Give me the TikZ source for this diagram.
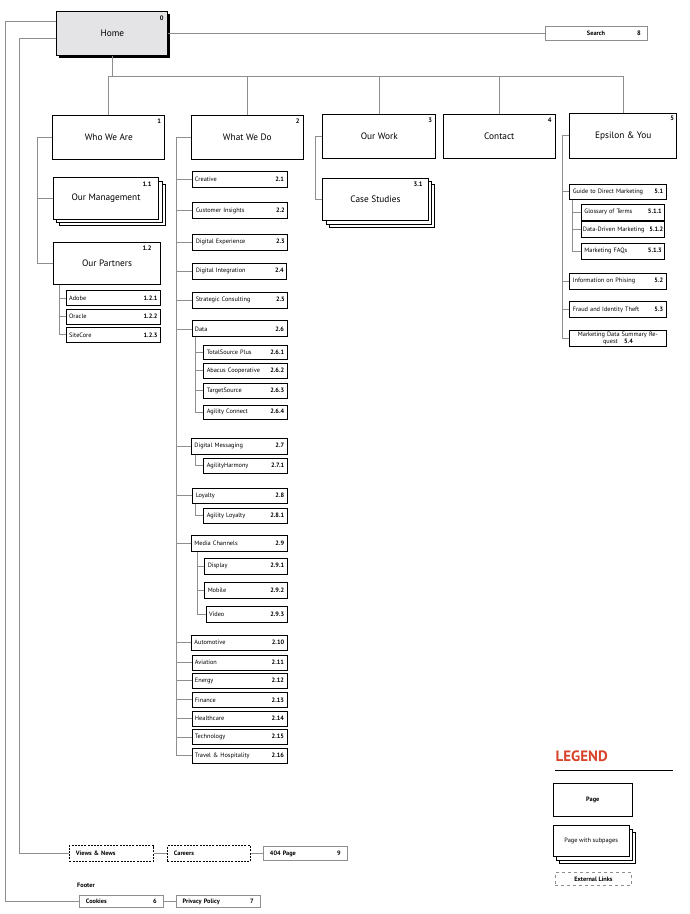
\documentclass[tikz,border=0pt]{standalone}
\usepackage{fontspec}
\setmainfont{PT Sans}
\usetikzlibrary{positioning,calc,shadows}
\definecolor{linegray}{HTML}{8E8E8E}
\definecolor{homegray}{HTML}{E4E4E6}
\definecolor{legendred}{HTML}{D8442A}
\newcommand{\leaffont}{\fontsize{6.3}{7}\selectfont}
\newcommand{\pagefont}{\fontsize{9.3}{10}\selectfont}
\newcommand{\numfont}{\fontsize{6.5}{7}\selectfont\bfseries}
\tikzstyle{line} = [draw=linegray, line width=0.8pt]
\tikzstyle{page} = [draw, line width=1pt, fill=white, minimum width=112pt, minimum height=44pt, font=\pagefont]
\tikzstyle{num} = [anchor=north east, inner sep=4pt, font=\numfont]
\tikzstyle{stack} = [page, copy shadow={shadow xshift=6.6pt, shadow yshift=-6.6pt, draw=black, fill=white, line width=1pt}, copy shadow={shadow xshift=3.3pt, shadow yshift=-3.3pt, draw=black, fill=white, line width=1pt}]
\tikzstyle{leaf} = [draw, line width=0.9pt, fill=white, anchor=west, minimum height=15pt, inner xsep=3pt, inner ysep=0pt, font=\leaffont]
\tikzstyle{ext} = [leaf, draw=linegray, inner xsep=6.5pt, font=\leaffont\bfseries, minimum height=13.5pt]
\tikzstyle{outlink} = [leaf, dash pattern=on 2pt off 1.2pt, inner xsep=6.5pt, font=\leaffont\bfseries, minimum height=16pt]

\begin{document}
\begin{tikzpicture}[x=1pt, y=-1pt]
    \path [use as bounding box, fill=white] (0,0) rectangle (690,914);
    % Home
    \node [page, fill=homegray, minimum width=111pt, drop shadow={shadow xshift=2pt, shadow yshift=-2pt, fill=black, opacity=1}, label={[num, inner sep=4.5pt]north east:0}] (home) at (112.3,33.5) {Home};
    \node [ext, anchor=center, minimum width=102pt, label={[anchor=east, inner sep=6.5pt, font=\numfont]east:8}] (search) at (596,33.5) {Search};

    % Main sections
    \node [page, label={[num]north east:1}] (whoweare) at (108.8,137) {Who We Are};
    \node [page, label={[num]north east:2}] (whatwedo) at (247.3,137) {What We Do};
    \node [page, minimum width=113pt, label={[num]north east:3}] (ourwork) at (379.3,136.7) {Our Work};
    \node [page, label={[num]north east:4}] (contact) at (499.3,136.7) {Contact};
    \node [page, minimum width=107pt, minimum height=45pt, label={[num, inner sep=3pt]north east:5}] (epsilon) at (623.3,135.8) {Epsilon \& You};

    % Who We Are
    \node [stack, minimum width=105.4pt, minimum height=41.6pt, label={[num, inner xsep=7.5pt]north east:1.1}] (management) at (106,198.5) {Our Management};
    \node [page, minimum width=107.4pt, minimum height=42pt, label={[num, inner xsep=9.5pt]north east:1.2}] (partners) at (107,263.3) {Our Partners};
    \node [leaf, text width=88.3pt] (adobe) at (65.7,298.2) {Adobe\hfill\textbf{1.2.1}};
    \node [leaf, text width=88.3pt] (oracle) at (65.7,316.5) {Oracle\hfill\textbf{1.2.2}};
    \node [leaf, text width=88.3pt] (sitecore) at (65.7,334.8) {SiteCore\hfill\textbf{1.2.3}};

    % What We Do
    \node [leaf, text width=89pt, minimum height=16pt] (creative) at (191.5,179.2) {Creative\hfill\textbf{2.1}};
    \node [leaf, text width=89pt, minimum height=16pt] (insights) at (192.3,210.8) {Customer Insights\hfill\textbf{2.2}};
    \node [leaf, text width=89pt, minimum height=16pt] (experience) at (192.3,242.2) {Digital Experience\hfill\textbf{2.3}};
    \node [leaf, text width=88pt, minimum height=16pt] (integration) at (192.3,271.2) {Digital Integration\hfill\textbf{2.4}};
    \node [leaf, text width=89pt, minimum height=16pt] (consulting) at (192.3,300) {Strategic Consulting\hfill\textbf{2.5}};
    \node [leaf, text width=89pt, minimum height=16pt] (data) at (191.5,328.9) {Data\hfill\textbf{2.6}};
    \node [leaf, text width=77.4pt, minimum height=14.5pt] (totalsource) at (203.3,352.2) {TotalSource Plus\hfill\textbf{2.6.1}};
    \node [leaf, text width=77.4pt, minimum height=14.5pt] (abacus) at (203.3,370.8) {Abacus Cooperative\hfill\textbf{2.6.2}};
    \node [leaf, text width=77.4pt, minimum height=14.5pt] (targetsource) at (203.3,390.8) {TargetSource\hfill\textbf{2.6.3}};
    \node [leaf, text width=77.4pt, minimum height=14.5pt] (agilityconnect) at (203.3,412.2) {Agility Connect\hfill\textbf{2.6.4}};
    \node [leaf, text width=89.7pt, minimum height=16pt] (messaging) at (191,446.3) {Digital Messaging\hfill\textbf{2.7}};
    \node [leaf, text width=77.4pt] (harmony) at (203.3,465.8) {AgilityHarmony\hfill\textbf{2.7.1}};
    \node [leaf, text width=88.4pt] (loyalty) at (192.3,495.8) {Loyalty\hfill\textbf{2.8}};
    \node [leaf, text width=77.4pt] (agilityloyalty) at (203.3,515.8) {Agility Loyalty\hfill\textbf{2.8.1}};
    \node [leaf, text width=89.7pt, minimum height=16.5pt] (media) at (191,543.3) {Media Channels\hfill\textbf{2.9}};
    \node [leaf, text width=76.4pt, minimum height=16pt] (display) at (204.3,566.3) {Display\hfill\textbf{2.9.1}};
    \node [leaf, text width=76.4pt, minimum height=16pt] (mobile) at (204.3,590.5) {Mobile\hfill\textbf{2.9.2}};
    \node [leaf, text width=75pt, minimum height=16pt] (video) at (205.7,614.5) {Video\hfill\textbf{2.9.3}};
    \node [leaf, text width=89.7pt] (automotive) at (191,642.5) {Automotive\hfill\textbf{2.10}};
    \node [leaf, text width=89pt] (aviation) at (191.5,662.5) {Aviation\hfill\textbf{2.11}};
    \node [leaf, text width=89pt] (energy) at (191.5,680.8) {Energy\hfill\textbf{2.12}};
    \node [leaf, text width=89pt] (finance) at (191.5,699.8) {Finance\hfill\textbf{2.13}};
    \node [leaf, text width=89pt] (healthcare) at (191.5,718.5) {Healthcare\hfill\textbf{2.14}};
    \node [leaf, text width=89pt] (technology) at (191.5,737.2) {Technology\hfill\textbf{2.15}};
    \node [leaf, text width=89pt] (travel) at (191.5,755.8) {Travel \& Hospitality\hfill\textbf{2.16}};

    % Our Work
    \node [stack, minimum width=105.6pt, minimum height=42.4pt, label={[num, inner xsep=6pt]north east:3.1}] (casestudies) at (375.5,199.5) {Case Studies};

    % Epsilon & You
    \node [leaf, text width=90.4pt, minimum height=15.3pt] (guide) at (569.3,191.7) {Guide to Direct Marketing\hfill\textbf{5.1}};
    \node [leaf, text width=77.3pt, minimum height=15.7pt] (glossary) at (581,212.2) {Glossary of Terms\hfill\textbf{5.1.1}};
    \node [leaf, text width=80.3pt, inner xsep=1.5pt, minimum height=15.7pt] (datadriven) at (581,229.5) {Data-Driven Marketing\hfill\textbf{5.1.2}};
    \node [leaf, text width=77.3pt, minimum height=15.7pt] (faqs) at (581,251.3) {Marketing FAQs\hfill\textbf{5.1.3}};
    \node [leaf, text width=90.4pt, minimum height=16pt] (phising) at (569.3,281.3) {Information on Phising\hfill\textbf{5.2}};
    \node [leaf, text width=90.4pt, minimum height=15.6pt] (fraud) at (569.3,309.5) {Fraud and Identity Theft\hfill\textbf{5.3}};
    \node [leaf, text width=90.4pt, minimum height=16.7pt, align=center] (summary) at (569.3,338.3) {Marketing Data Summary Re-\\quest\quad\textbf{5.4}};

    % Utility pages and footer
    \node [outlink, text width=70.7pt] (views) at (69,853.5) {Views \& News};
    \node [outlink, text width=69.7pt] (careers) at (167,853.5) {Careers};
    \node [ext, text width=70.7pt] (notfound) at (263,853.5) {404 Page\hfill 9};
    \node [anchor=west, inner sep=0pt, font=\leaffont\bfseries] (footer) at (77,885.7) {Footer};
    \node [ext, text width=70.7pt, minimum height=12pt] (cookies) at (79,901.7) {Cookies\hfill 6};
    \node [ext, text width=71pt, minimum height=12pt] (privacy) at (175.7,901.7) {Privacy Policy\hfill 7};

    % Legend
    \node [anchor=west, inner sep=0pt, text=legendred, font=\fontsize{15}{16}\selectfont\bfseries] (legend) at (555.5,756) {LEGEND};
    \node [page, minimum width=79pt, minimum height=32.7pt, font=\leaffont\bfseries] (legendpage) at (592.8,799.7) {Page};
    \node [stack, minimum width=75.7pt, minimum height=31pt, font=\leaffont] (legendstack) at (591.2,841.2) {Page with subpages};
    \node [leaf, anchor=center, draw=linegray, dashed, minimum width=76.4pt, minimum height=13pt, font=\leaffont\bfseries] (legendext) at (593.5,878.8) {External Links};
    \draw [line width=1pt] ($(legend.west)+(-0.5,14)$) -- ++(118.3,0);

    % Connections
    \draw [line] (home.east) -- (search.west);
    \draw [line] (home.south) -- ++(0,20) coordinate (hub) -| (epsilon.north);
    \draw [line] (hub) -| (whoweare.north);
    \draw [line] (hub) -| (whatwedo.north);
    \draw [line] (hub) -| (ourwork.north);
    \draw [line] (hub) -| (contact.north);
    \draw [line] ($(home.north west)+(0,10)$) -- ++(-51,0) |- (cookies.west);
    \draw [line] ($(home.north west)+(0,27)$) -- ++(-37,0) |- (views.west);
    \draw [line] (views) -- (careers);
    \draw [line] (careers) -- (notfound);
    \draw [line] (cookies) -- (privacy);

    \draw [line] (whoweare.west) -- ++(-15,0) |- (partners.west);
    \draw [line] (management.west) -- ++(-15,0);
    \draw [line] ($(partners.south west)+(6.7,0)$) |- (adobe.west);
    \draw [line] ($(partners.south west)+(6.7,0)$) |- (oracle.west);
    \draw [line] ($(partners.south west)+(6.7,0)$) |- (sitecore.west);

    \draw [line] (whatwedo.west) -- ++(-14.6,0) coordinate (wspine) |- (travel.west);
    \draw [line] (wspine) |- (creative.west);
    \draw [line] (wspine) |- (insights.west);
    \draw [line] (wspine) |- (experience.west);
    \draw [line] (wspine) |- (integration.west);
    \draw [line] (wspine) |- (consulting.west);
    \draw [line] (wspine) |- (data.west);
    \draw [line] (wspine) |- (messaging.west);
    \draw [line] (wspine) |- (loyalty.west);
    \draw [line] (wspine) |- (media.west);
    \draw [line] (wspine) |- (automotive.west);
    \draw [line] (wspine) |- (aviation.west);
    \draw [line] (wspine) |- (energy.west);
    \draw [line] (wspine) |- (finance.west);
    \draw [line] (wspine) |- (healthcare.west);
    \draw [line] (wspine) |- (technology.west);
    \draw [line] ($(data.south west)+(3.8,0)$) |- (totalsource.west);
    \draw [line] ($(data.south west)+(3.8,0)$) |- (abacus.west);
    \draw [line] ($(data.south west)+(3.8,0)$) |- (targetsource.west);
    \draw [line] ($(data.south west)+(3.8,0)$) |- (agilityconnect.west);
    \draw [line] ($(messaging.south west)+(4,0)$) |- (harmony.west);
    \draw [line] ($(loyalty.south west)+(2.7,0)$) |- (agilityloyalty.west);
    \draw [line] ($(media.south west)+(6.7,0)$) |- (display.west);
    \draw [line] ($(media.south west)+(6.7,0)$) |- (mobile.west);
    \draw [line] ($(media.south west)+(6.7,0)$) |- (video.west);

    \draw [line] (ourwork.west) -- ++(-6.7,0) |- (casestudies.west);

    \draw [line] (epsilon.west) -- ++(-6.7,0) coordinate (espine) |- (summary.west);
    \draw [line] (espine) |- (guide.west);
    \draw [line] (espine) |- (phising.west);
    \draw [line] (espine) |- (fraud.west);
    \draw [line] ($(guide.south west)+(3.4,0)$) |- (glossary.west);
    \draw [line] ($(guide.south west)+(3.4,0)$) |- (datadriven.west);
    \draw [line] ($(guide.south west)+(3.4,0)$) |- (faqs.west);
\end{tikzpicture}
\end{document}
